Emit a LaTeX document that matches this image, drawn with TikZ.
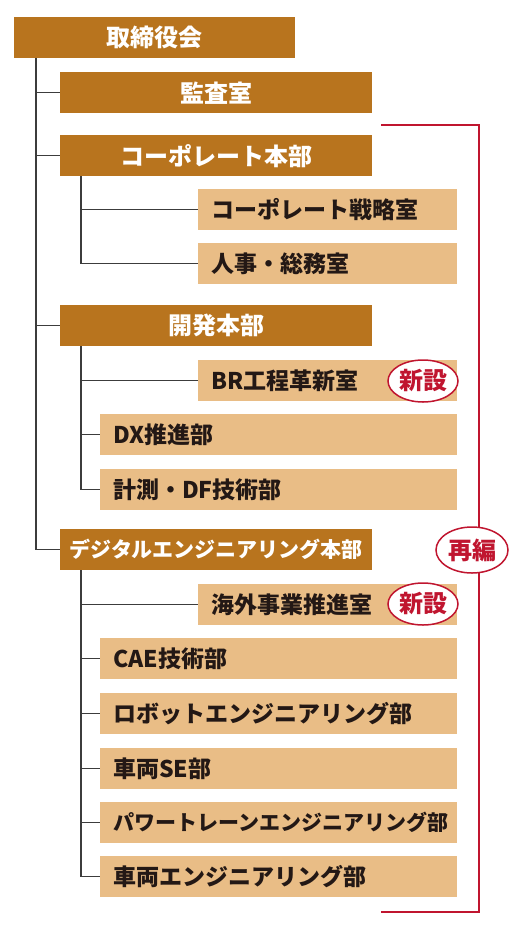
\documentclass[tikz,border=0pt]{standalone}
\usepackage{fontspec}
\setmainfont{Noto Sans CJK JP}
\usepackage{tikz}
\usetikzlibrary{shapes.geometric}
\definecolor{orgbrown}{RGB}{184,116,30}
\definecolor{orgtan}{RGB}{233,189,134}
\definecolor{orgred}{RGB}{192,21,47}
\definecolor{orgline}{RGB}{60,60,60}
\definecolor{orgtext}{RGB}{35,24,21}

\begin{document}
\begin{tikzpicture}[
      x=1pt, y=-1pt,
      head/.style={fill=orgbrown, text=white, anchor=north west, minimum height=41pt,
                   inner sep=0pt, font=\fontsize{24}{24}\selectfont\bfseries},
      dept/.style={fill=orgtan, text=orgtext, anchor=north west, minimum height=41pt,
                   inner xsep=13pt, inner ysep=0pt, text width=#1, align=left,
                   font=\fontsize{23}{23}\selectfont\bfseries},
      link/.style={draw=orgline, line width=1.2pt},
      regroup/.style={draw=orgred, line width=2pt},
      badge/.style={ellipse, draw=orgred, line width=1.5pt, fill=white, text=orgred, inner sep=0pt,
                    minimum width=70pt, minimum height=42pt, font=\fontsize{24}{24}\selectfont\bfseries}
    ]
      \useasboundingbox (0,0) rectangle (526,938);

      % Top
      \node[head, minimum width=281pt] (board) at (14,17) {取締役会};
      \node[head, minimum width=312pt] (audit) at (60,72) {監査室};

      % Corporate
      \node[head, minimum width=312pt] (corp) at (60,135) {コーポレート本部};
      \node[dept=233pt] (corpstrat) at (198,189) {コーポレート戦略室};
      \node[dept=233pt] (hr) at (198,243) {人事・総務室};

      % Development
      \node[head, minimum width=312pt] (dev) at (60,305) {開発本部};
      \node[dept=233pt] (br) at (198,360) {BR工程革新室};
      \node[dept=331pt] (dx) at (100,414) {DX推進部};
      \node[dept=331pt] (df) at (100,469) {計測・DF技術部};

      % Digital engineering
      \node[head, minimum width=312pt, font=\fontsize{21}{21}\selectfont\bfseries] (de) at (60,529) {デジタルエンジニアリング本部};
      \node[dept=233pt] (overseas) at (198,584) {海外事業推進室};
      \node[dept=331pt] (cae) at (100,638) {CAE技術部};
      \node[dept=331pt] (robot) at (100,693) {ロボットエンジニアリング部};
      \node[dept=331pt] (se) at (100,748) {車両SE部};
      \node[dept=331pt, font=\fontsize{21}{21}\selectfont\bfseries] (pt) at (100,802) {パワートレーンエンジニアリング部};
      \node[dept=331pt] (veh) at (100,856) {車両エンジニアリング部};

      % Lines
      \draw[link] ([xshift=22pt]board.south west) |- (audit.west);
      \draw[link] ([xshift=22pt]board.south west) |- (corp.west);
      \draw[link] ([xshift=22pt]board.south west) |- (dev.west);
      \draw[link] ([xshift=22pt]board.south west) |- (de.west);
      \draw[link] ([xshift=21pt]corp.south west) |- (corpstrat.west);
      \draw[link] ([xshift=21pt]corp.south west) |- (hr.west);
      \draw[link] ([xshift=21pt]dev.south west) |- (br.west);
      \draw[link] ([xshift=21pt]dev.south west) |- (dx.west);
      \draw[link] ([xshift=21pt]dev.south west) |- (df.west);
      \draw[link] ([xshift=21pt]de.south west) |- (overseas.west);
      \draw[link] ([xshift=21pt]de.south west) |- (cae.west);
      \draw[link] ([xshift=21pt]de.south west) |- (robot.west);
      \draw[link] ([xshift=21pt]de.south west) |- (se.west);
      \draw[link] ([xshift=21pt]de.south west) |- (pt.west);
      \draw[link] ([xshift=21pt]de.south west) |- (veh.west);

      % Regrouping bracket
      \coordinate (regtop) at (381,125);
      \coordinate (regbot) at (381,912);
      \draw[regroup] (regtop) -- ++(98,0) |- (regbot);

      % Badges
      \node[badge] (newbr) at (423,381) {新設};
      \node[badge] (newos) at (423,604) {新設};
      \node[badge, minimum width=72pt, minimum height=46pt] (reorg) at (472,550) {再編};
    \end{tikzpicture}
\end{document}
